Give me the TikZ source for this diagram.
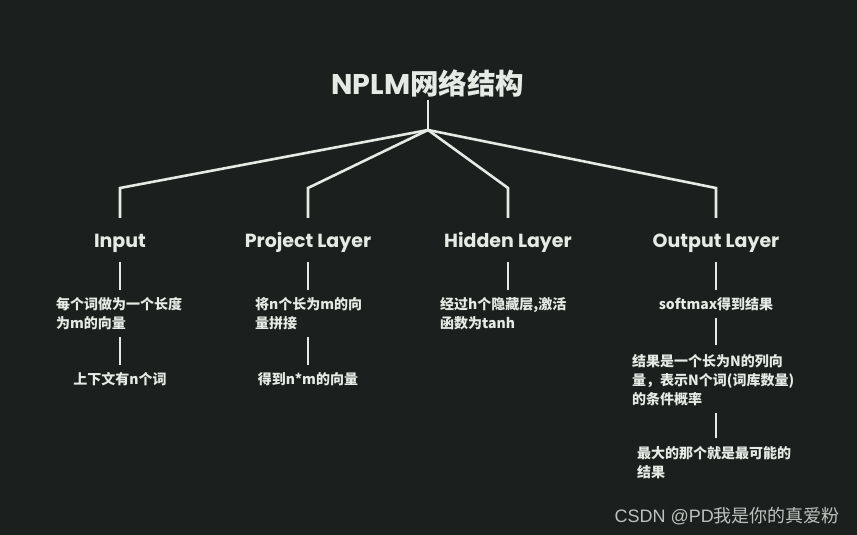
\documentclass[tikz,border=0pt]{standalone}
\usepackage{fontspec}
\setmainfont{Noto Sans CJK SC}
\newfontfamily\pop{Poppins}
\newfontfamily\lib{Liberation Sans}
\definecolor{bg}{HTML}{1B201E}
\definecolor{fg}{HTML}{E6EAE5}
\definecolor{wm}{HTML}{BEC2BF}
\begin{document}
\begin{tikzpicture}[x=1pt,y=-1pt,
  ln/.style={draw=fg,line width=2.6pt},
  title/.style={text=fg,font=\fontsize{28.5}{32}\selectfont\bfseries,inner sep=0},
  layer/.style={text=fg,font=\pop\fontsize{19}{22}\selectfont\bfseries,inner sep=0,text height=14pt,text depth=4pt,anchor=base},
  desc/.style={text=fg,font=\fontsize{14}{19}\selectfont\bfseries,inner sep=0,align=left},
]
\fill[bg] (0,0) rectangle (857,535);
\useasboundingbox (0,0) rectangle (857,535);

\node[title] (t) at (428,83) {{\pop NPLM}网络结构};
\coordinate (hub) at (428,130);
\coordinate (c1) at (120,188);
\coordinate (c2) at (308,188);
\coordinate (c3) at (508,188);
\coordinate (c4) at (716,188);

\node[layer] (in) at (120,247) {Input};
\node[layer] (pl) at (308,247) {Project Layer};
\node[layer] (hl) at (508,247) {Hidden Layer};
\node[layer] (ol) at (716,247) {Output Layer};

\draw[ln,shorten <=3pt] (t.south) -- (hub);
\draw[ln,shorten >=15pt] (hub) -- (c1) -- (in.north);
\draw[ln,shorten >=15pt] (hub) -- (c2) -- (pl.north);
\draw[ln,shorten >=15pt] (hub) -- (c3) -- (hl.north);
\draw[ln,shorten >=15pt] (hub) -- (c4) -- (ol.north);

% Input column
\node[desc,anchor=north west] (d11) at (56,297) {每个词做为一个长度\\为m的向量};
\node[desc,anchor=north] (d12) at (120,372) {上下文有n个词};
\draw[ln,shorten <=11pt,shorten >=7pt] (in.south) -- (in |- d11.north);
\draw[ln,shorten <=7pt,shorten >=7pt] (in |- d11.south) -- (d12.north);

% Project column
\node[desc,anchor=north west] (d21) at (255,297) {将n个长为m的向\\量拼接};
\node[desc,anchor=north] (d22) at (308,372) {得到n*m的向量};
\draw[ln,shorten <=11pt,shorten >=7pt] (pl.south) -- (pl |- d21.north);
\draw[ln,shorten <=7pt,shorten >=7pt] (pl |- d21.south) -- (d22.north);

% Hidden column
\node[desc,anchor=north west] (d31) at (440,297) {经过h个隐藏层,激活\\函数为tanh};
\draw[ln,shorten <=11pt,shorten >=7pt] (hl.south) -- (hl |- d31.north);

% Output column
\node[desc,anchor=north] (d41) at (716,297) {softmax得到结果};
\node[desc,anchor=north west] (d42) at (632,354) {结果是一个长为N的列向\\量，表示N个词(词库数量)\\的条件概率};
\node[desc,anchor=north west] (d43) at (637,446) {最大的那个就是最可能的\\结果};
\draw[ln,shorten <=11pt,shorten >=7pt] (ol.south) -- (ol |- d41.north);
\draw[ln,shorten <=7pt,shorten >=9pt] (d41.south) -- (ol |- d42.north);
\draw[ln,shorten <=7pt,shorten >=8pt] (ol |- d42.south) -- (ol |- d43.north);

\node[text=wm,font=\fontsize{18}{22}\selectfont,inner sep=0,anchor=base east] (wmk) at (840,522) {{\lib CSDN @PD}我是你的真爱粉};
\end{tikzpicture}
\end{document}
